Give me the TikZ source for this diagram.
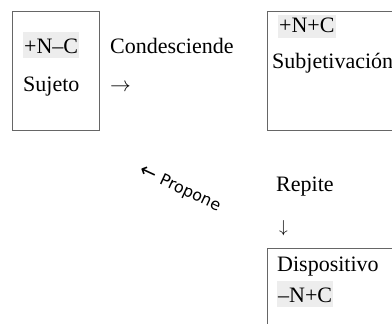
\documentclass[tikz,border=0pt]{standalone}
\usepackage{fontspec}
\setmainfont{Liberation Serif}
\newfontfamily\propfont{DejaVu Sans}
\begin{document}
\begin{tikzpicture}[x=1pt, y=-1pt,
  txt/.style={anchor=base west, inner sep=0pt, font=\fontsize{22}{26}\selectfont},
  hl/.style={txt, fill=black!7, inner xsep=1pt, text height=21pt, text depth=5pt},
  frame/.style={draw=black!60, line width=0.8pt}]
\useasboundingbox (0,0) rectangle (392,324);
\clip (0,0) rectangle (392,324);
% boxes
\draw[frame] (12,11) rectangle (99,130);
\draw[frame] (267,11) rectangle (400,130);
\draw[frame] (267,248) rectangle (400,330);

% first box
\node[hl] (nc) at (23,53) {+N–C};
\node[txt] (sujeto) at (23,92) {Sujeto};

\node[txt] (conde) at (110,53) {Condesciende};
\node[txt] (arr1) at (110,92) {$\rightarrow$};

% second box
\node[hl, text height=18pt] (npc) at (278,33) {+N+C};
\node[txt] (subj) at (272,68) {Subjetivación};

% going down
\node[txt] (repite) at (276,191) {Repite};
\node[txt, font=\fontsize{19}{22}\selectfont] (arr2) at (279,232) {$\downarrow$};

% third box
\node[txt] (dispo) at (277,271) {Dispositivo};
\node[hl] (mnc) at (277,302) {–N+C};

\node[rotate=-25, font=\propfont\fontsize{16}{18}\selectfont] (propone) at (180,189)
  {{\fontsize{20}{20}\selectfont ←} Propone};
\end{tikzpicture}
\end{document}
